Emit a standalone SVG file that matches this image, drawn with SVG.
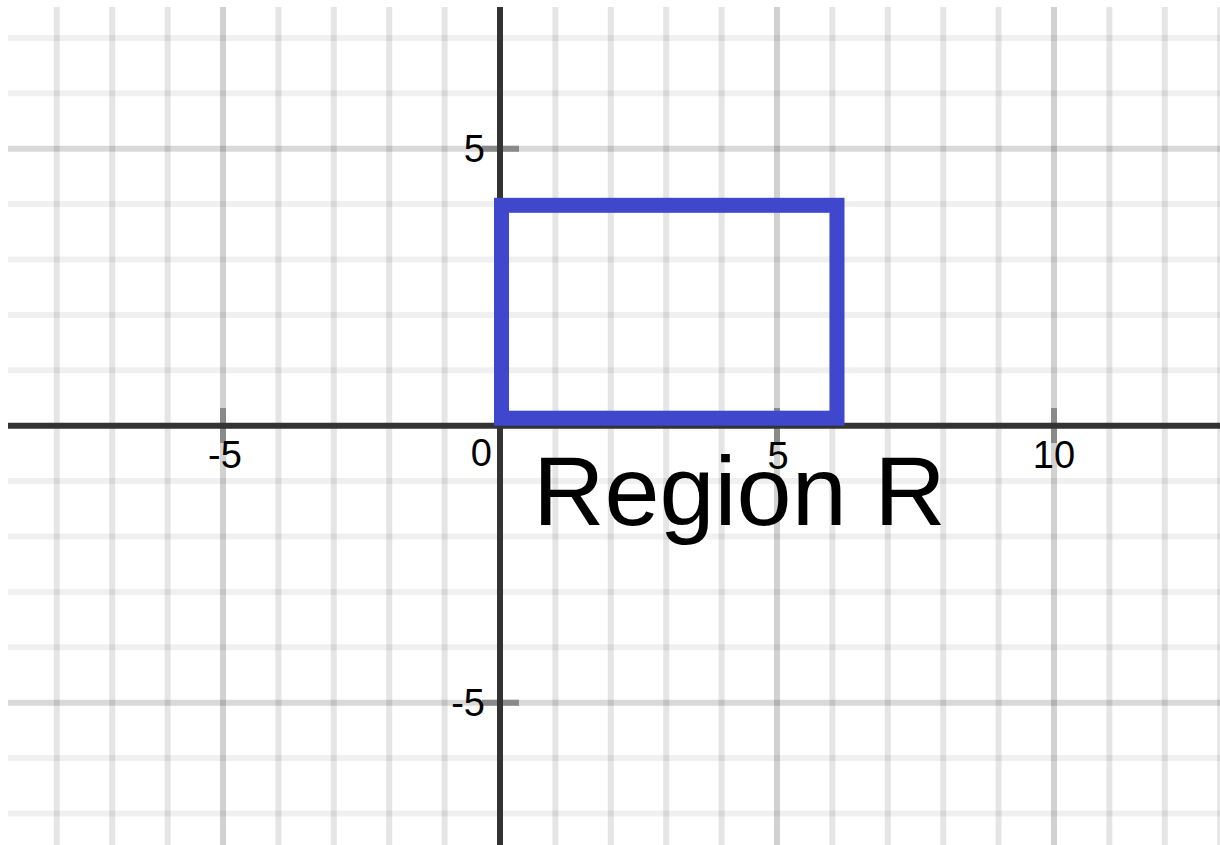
<svg xmlns="http://www.w3.org/2000/svg" width="1220" height="845" viewBox="0 0 1220 845">
<style>
.vmin{stroke:#000;stroke-opacity:0.1;stroke-width:6}
.vmaj{stroke:#000;stroke-opacity:0.18;stroke-width:6}
.hmin{stroke:#000;stroke-opacity:0.06;stroke-width:6}
.hmaj{stroke:#000;stroke-opacity:0.15;stroke-width:6}
.tick{stroke:#8a8a8a;stroke-width:6}
.axis{stroke:#333;stroke-width:6}
.lbl{font-family:"Liberation Sans",Arial,sans-serif;font-size:38px;fill:#000}
</style>
<rect width="1220" height="845" fill="#fff"/>
<g id="grid">
<line class="hmin" x1="8" y1="37.9" x2="1220" y2="37.9"/>
<line class="hmin" x1="8" y1="93.3" x2="1220" y2="93.3"/>
<line class="hmaj" x1="8" y1="148.7" x2="1220" y2="148.7"/>
<line class="hmin" x1="8" y1="204.1" x2="1220" y2="204.1"/>
<line class="hmin" x1="8" y1="259.5" x2="1220" y2="259.5"/>
<line class="hmin" x1="8" y1="314.9" x2="1220" y2="314.9"/>
<line class="hmin" x1="8" y1="370.3" x2="1220" y2="370.3"/>
<line class="hmin" x1="8" y1="481.1" x2="1220" y2="481.1"/>
<line class="hmin" x1="8" y1="536.5" x2="1220" y2="536.5"/>
<line class="hmin" x1="8" y1="591.9" x2="1220" y2="591.9"/>
<line class="hmin" x1="8" y1="647.3" x2="1220" y2="647.3"/>
<line class="hmaj" x1="8" y1="702.7" x2="1220" y2="702.7"/>
<line class="hmin" x1="8" y1="758.1" x2="1220" y2="758.1"/>
<line class="hmin" x1="8" y1="813.5" x2="1220" y2="813.5"/>
<line class="vmin" x1="56.8" y1="7" x2="56.8" y2="845"/>
<line class="vmin" x1="112.2" y1="7" x2="112.2" y2="845"/>
<line class="vmin" x1="167.6" y1="7" x2="167.6" y2="845"/>
<line class="vmaj" x1="223" y1="7" x2="223" y2="845"/>
<line class="vmin" x1="278.4" y1="7" x2="278.4" y2="845"/>
<line class="vmin" x1="333.8" y1="7" x2="333.8" y2="845"/>
<line class="vmin" x1="389.2" y1="7" x2="389.2" y2="845"/>
<line class="vmin" x1="444.6" y1="7" x2="444.6" y2="845"/>
<line class="vmin" x1="555.4" y1="7" x2="555.4" y2="845"/>
<line class="vmin" x1="610.8" y1="7" x2="610.8" y2="845"/>
<line class="vmin" x1="666.2" y1="7" x2="666.2" y2="845"/>
<line class="vmin" x1="721.6" y1="7" x2="721.6" y2="845"/>
<line class="vmaj" x1="777" y1="7" x2="777" y2="845"/>
<line class="vmin" x1="832.4" y1="7" x2="832.4" y2="845"/>
<line class="vmin" x1="887.8" y1="7" x2="887.8" y2="845"/>
<line class="vmin" x1="943.2" y1="7" x2="943.2" y2="845"/>
<line class="vmin" x1="998.6" y1="7" x2="998.6" y2="845"/>
<line class="vmaj" x1="1054" y1="7" x2="1054" y2="845"/>
<line class="vmin" x1="1109.4" y1="7" x2="1109.4" y2="845"/>
<line class="vmin" x1="1164.8" y1="7" x2="1164.8" y2="845"/>
<line class="vmin" x1="1220.2" y1="7" x2="1220.2" y2="845"/>
</g>
<g id="ticks">
<line class="tick" x1="223" y1="408" x2="223" y2="443"/>
<line class="tick" x1="777" y1="408" x2="777" y2="443"/>
<line class="tick" x1="1054" y1="408" x2="1054" y2="443"/>
<line class="tick" x1="482" y1="148.7" x2="519" y2="148.7"/>
<line class="tick" x1="482" y1="702.7" x2="519" y2="702.7"/>
</g>
<g id="axes">
<line class="axis" x1="8" y1="425.7" x2="1220" y2="425.7"/>
<line class="axis" x1="500" y1="7" x2="500" y2="845"/>
</g>
<g id="labels">
<text class="lbl" x="485" y="162" text-anchor="end">5</text>
<text class="lbl" x="485" y="716" text-anchor="end">-5</text>
<text class="lbl" x="492" y="466" text-anchor="end">0</text>
<text class="lbl" x="225" y="468" text-anchor="middle">-5</text>
<text class="lbl" x="778" y="469" text-anchor="middle">5</text>
<text class="lbl" x="1054" y="468" text-anchor="middle">10</text>
</g>
<g id="region">
<rect x="501.5" y="205.3" width="335.5" height="212.9" fill="none" stroke="#3f47cc" stroke-width="15"/>
</g>
<g id="region-label">
<text x="533" y="525" font-family="'Liberation Sans',Arial,sans-serif" font-size="99" fill="#000">Region R</text>
</g>
</svg>
